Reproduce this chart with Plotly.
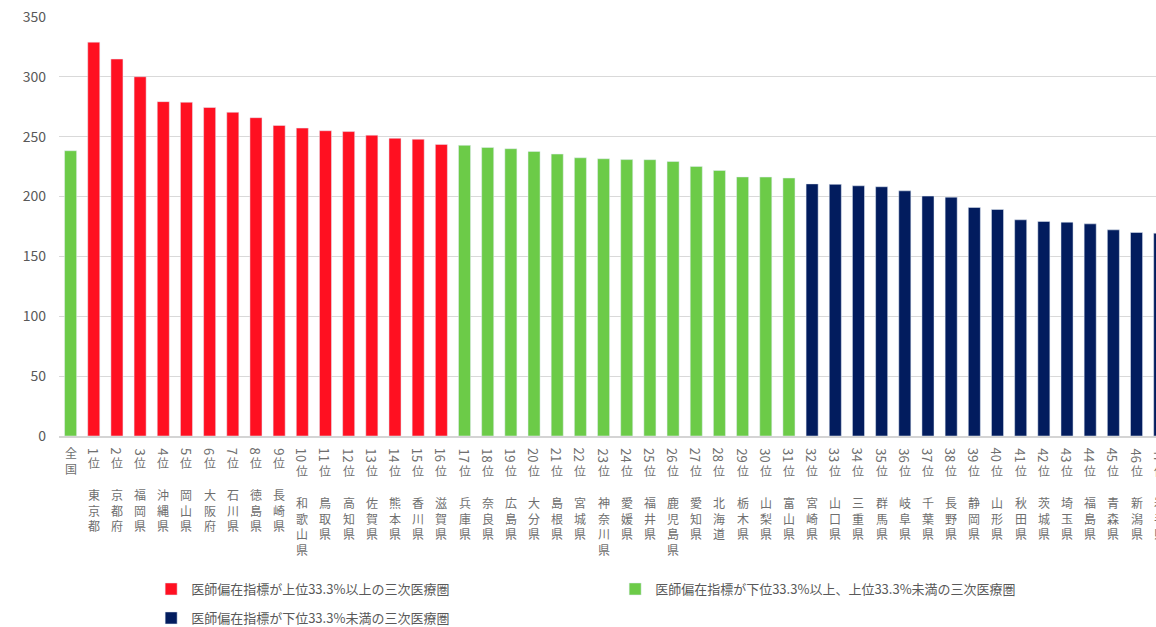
import plotly.graph_objects as go

# 医師偏在指標（都道府県別・順位順）
ranks = list(range(1, 48))
prefectures = [
    "東京都", "京都府", "福岡県", "沖縄県", "岡山県", "大阪府", "石川県", "徳島県",
    "長崎県", "和歌山県", "鳥取県", "高知県", "佐賀県", "熊本県", "香川県", "滋賀県",
    "兵庫県", "奈良県", "広島県", "大分県", "島根県", "宮城県", "神奈川県", "愛媛県",
    "福井県", "鹿児島県", "愛知県", "北海道", "栃木県", "山梨県", "富山県", "宮崎県",
    "山口県", "三重県", "群馬県", "岐阜県", "千葉県", "長野県", "静岡県", "山形県",
    "秋田県", "茨城県", "埼玉県", "福島県", "青森県", "新潟県", "岩手県",
]
index_values = [
    329.0, 314.9, 300.1, 279.3, 278.8, 274.4, 270.4, 265.9,
    259.4, 257.2, 255.0, 254.3, 251.3, 248.7, 247.9, 243.6,
    242.8, 241.0, 240.0, 237.7, 235.5, 232.4, 231.6, 230.9,
    230.8, 229.3, 225.2, 221.8, 216.4, 216.3, 215.5, 210.6,
    210.2, 209.0, 208.2, 204.8, 200.4, 199.5, 190.9, 189.2,
    180.6, 179.2, 178.6, 177.2, 172.2, 170.0, 169.4,
]
national_label = "全国"
national_value = 238.3

# group boundaries (ranks)
upper_last = 16
middle_last = 31

legend_names = [
    "医師偏在指標が上位33.3%以上の三次医療圏",
    "医師偏在指標が下位33.3%以上、上位33.3%未満の三次医療圏",
    "医師偏在指標が下位33.3%未満の三次医療圏",
]
colors = ["#FF1021", "#6CCB48", "#021C5E"]

FONT = "Noto Sans CJK JP"
LABEL_COLOR = "#6f6f6f"
X0, X1 = -0.5, 46.84
BAR_W = 0.52

fig = go.Figure()

upper_x = ranks[:upper_last]
upper_y = index_values[:upper_last]
middle_x = [0] + ranks[upper_last:middle_last]
middle_y = [national_value] + index_values[upper_last:middle_last]
lower_x = ranks[middle_last:]
lower_y = index_values[middle_last:]

fig.add_trace(go.Bar(x=upper_x, y=upper_y, name=legend_names[0],
                     marker_color=colors[0], width=BAR_W, legend="legend"))
fig.add_trace(go.Bar(x=middle_x, y=middle_y, name=legend_names[1],
                     marker_color=colors[1], width=BAR_W, legend="legend"))
fig.add_trace(go.Bar(x=lower_x, y=lower_y, name=legend_names[2],
                     marker_color=colors[2], width=BAR_W, legend="legend2"))

# category labels, written top-to-bottom under each bar
PLOT_BOTTOM = 436          # pixel row of the x axis
LABEL_TOP = 447
DIGIT_H = 7.3
LABEL_SIZE = 12
PITCH = LABEL_SIZE * 1.3   # line spacing of a <br>-stacked label
GAP = 18.5
annotations = []


def xpaper(i):
    return (i - X0) / (X1 - X0)


def stacked(i, text, top, angle=0):
    """Place text with its top edge `top` pixels down the page, one glyph per line."""
    body = "<br>".join(text) if angle == 0 else text
    annotations.append(dict(
        xref="paper", yref="paper", x=xpaper(i), y=0,
        xanchor="center", yanchor="top", yshift=-(top - PLOT_BOTTOM),
        text=body, textangle=angle, showarrow=False, borderpad=0,
        font=dict(family=FONT, size=LABEL_SIZE if angle == 0 else 13,
                  color=LABEL_COLOR),
    ))


stacked(0, national_label, LABEL_TOP - 4)

for r, name in zip(ranks, prefectures):
    digits = str(r)
    dh = DIGIT_H * len(digits)
    stacked(r, digits, LABEL_TOP, angle=90)
    stacked(r, "位", LABEL_TOP + dh - 1)
    stacked(r, name, LABEL_TOP + dh + PITCH + GAP - 3)

legend_style = dict(
    orientation="h", xanchor="left", yanchor="middle",
    font=dict(family=FONT, size=13, color="#595959"),
    bgcolor="rgba(0,0,0,0)", entrywidth=419, entrywidthmode="pixels",
    itemclick=False, itemdoubleclick=False,
)

fig.update_layout(
    width=1156, height=627,
    margin=dict(l=59, r=0, t=17, b=191, autoexpand=False),
    paper_bgcolor="white", plot_bgcolor="white",
    barmode="overlay",
    font=dict(family=FONT, color="#595959"),
    xaxis=dict(range=[X0, X1], showticklabels=False, showgrid=False,
               zeroline=False, showline=True, linecolor="#d4d4d4",
               linewidth=2, fixedrange=True),
    yaxis=dict(range=[0, 350], dtick=50, showgrid=True, gridcolor="#d9d9d9",
               gridwidth=1, zeroline=False, showline=False,
               tickfont=dict(family=FONT, size=14, color="#595959"),
               ticklabelstandoff=12, fixedrange=True),
    legend=dict(x=0.084, y=-0.3652, **legend_style),
    legend2=dict(x=0.084, y=-0.4344, **legend_style),
    annotations=annotations,
    showlegend=True,
)

fig.write_html("out.html")
